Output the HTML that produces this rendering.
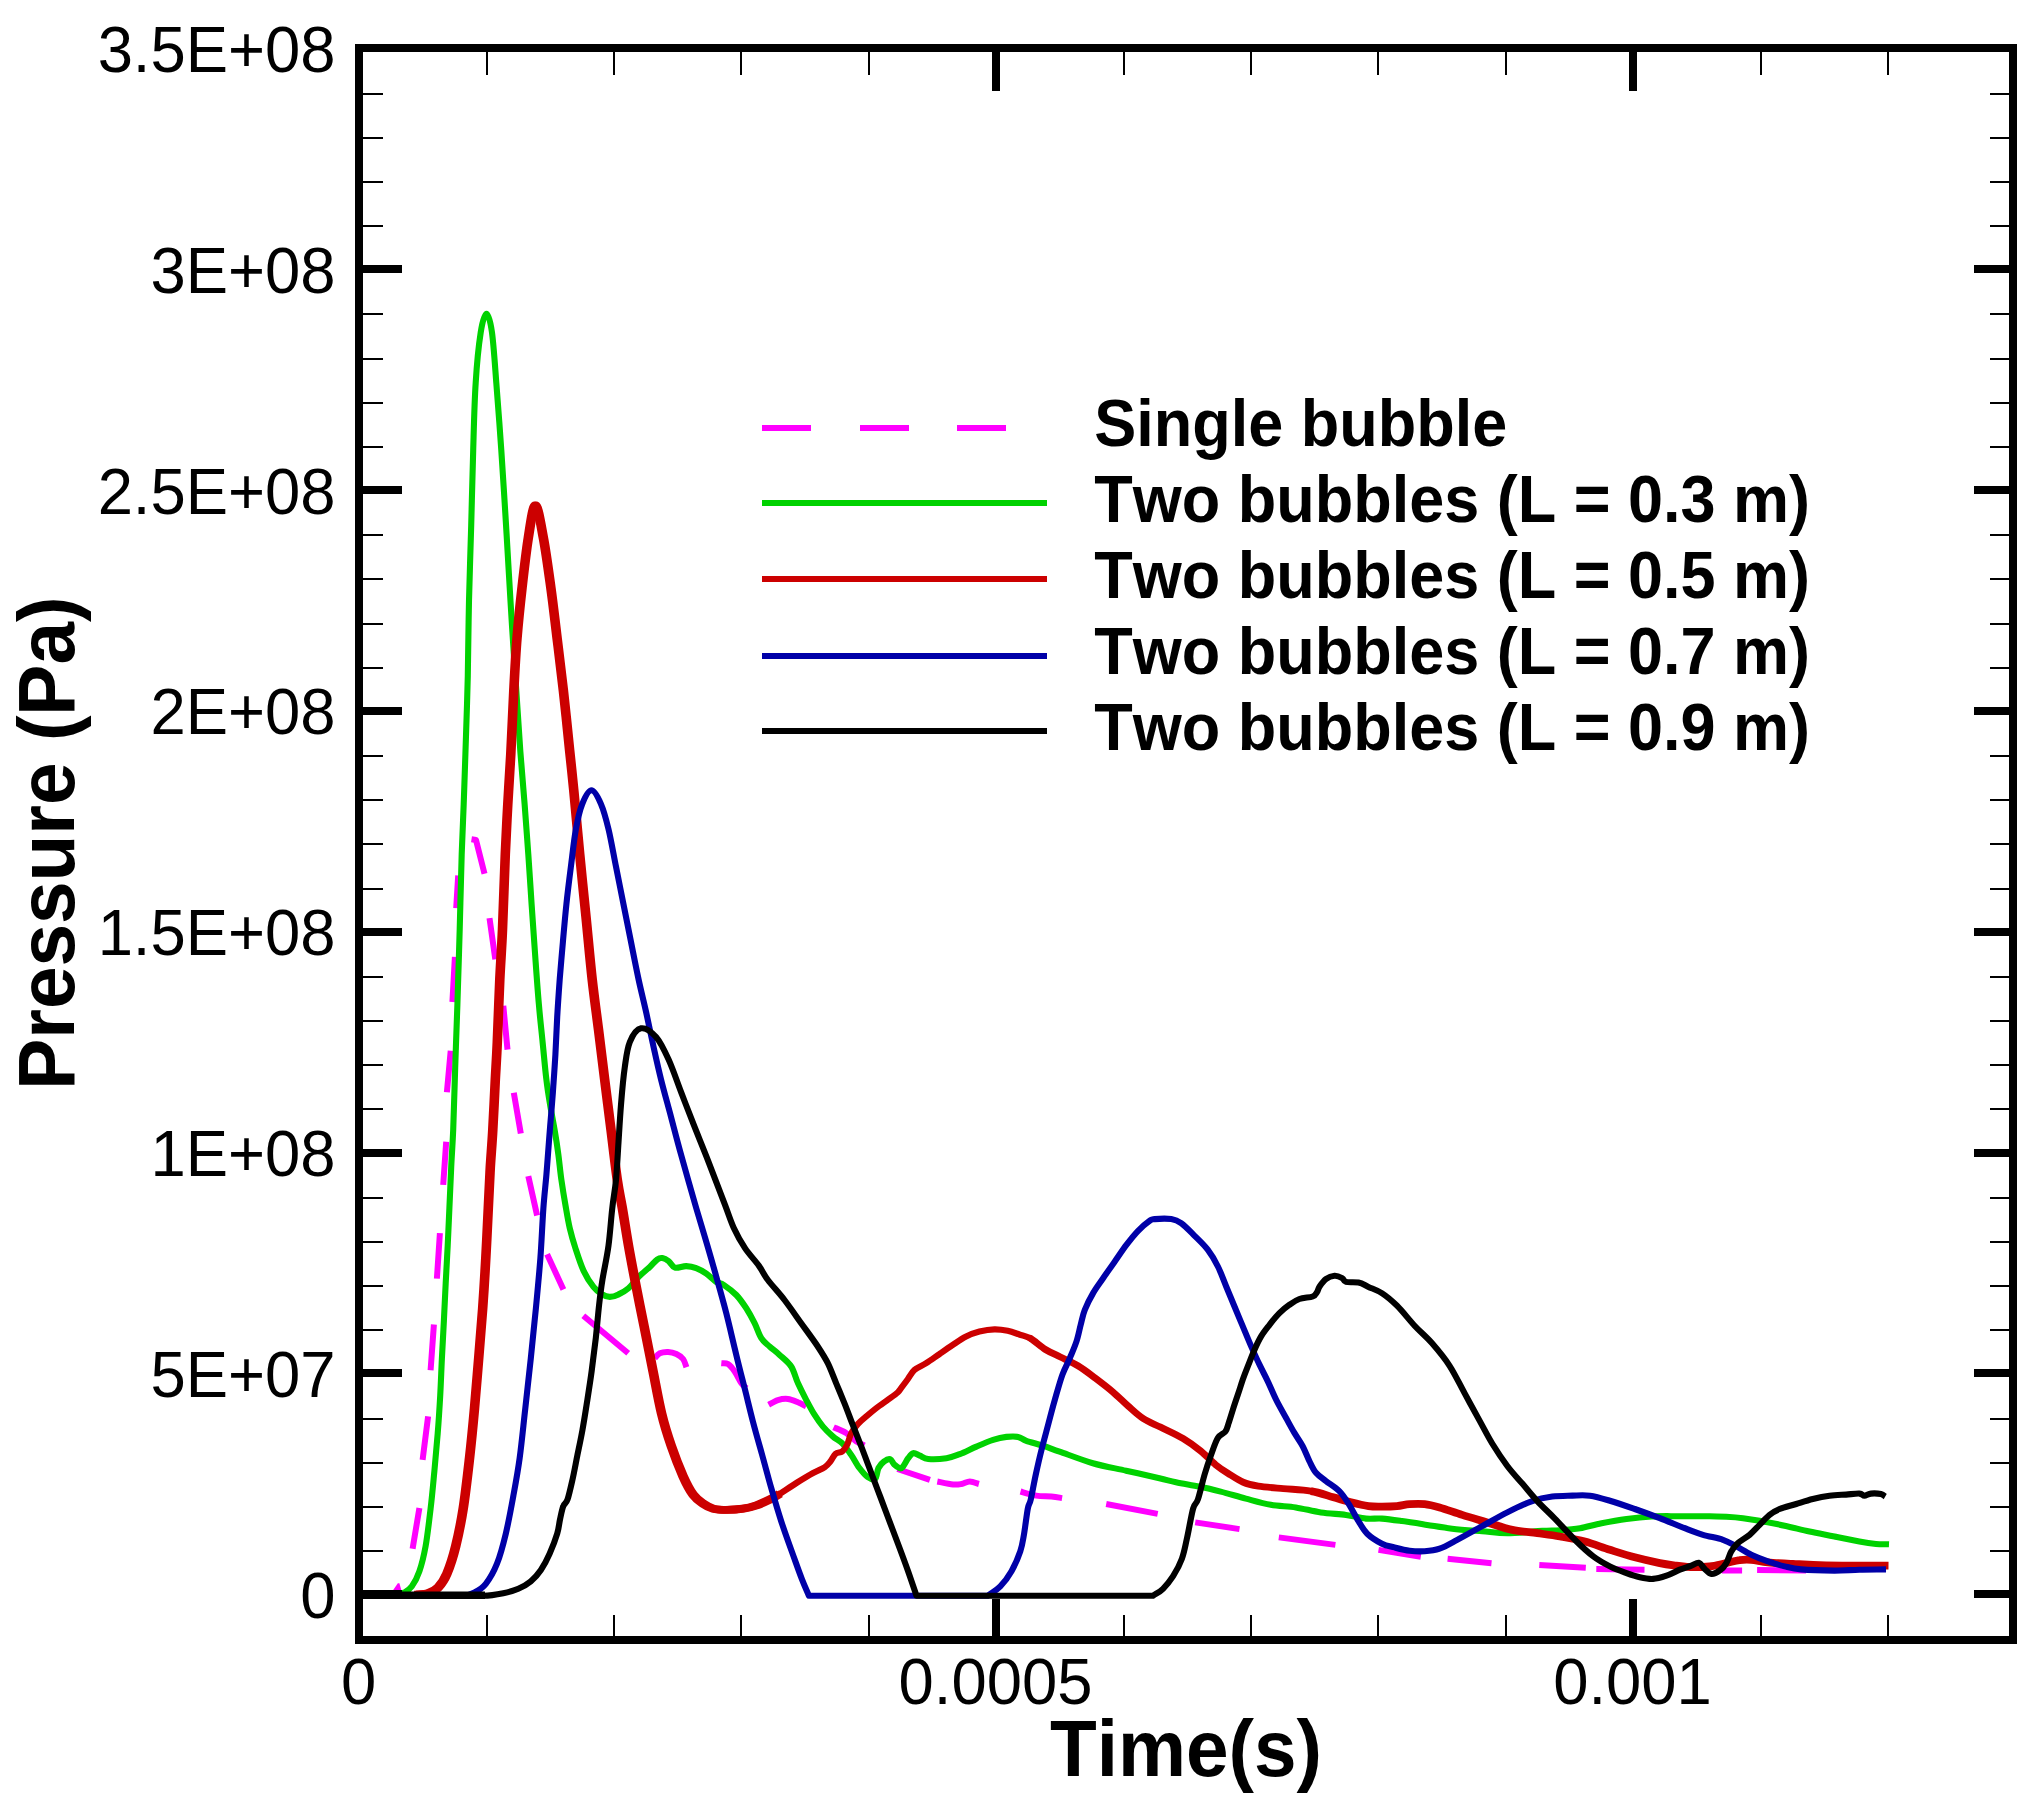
<!DOCTYPE html>
<html lang="en"><head><meta charset="utf-8"><title>Pressure vs Time</title>
<style>
html,body{margin:0;padding:0;background:#fff;}
body{width:2044px;height:1815px;overflow:hidden;}
svg{display:block;}
text{font-family:"Liberation Sans",Arial,Helvetica,sans-serif;fill:#000;font-kerning:none;}
.tl{font-size:65px;}
.ti{font-size:76.5px;font-weight:bold;}
.lg{font-size:63px;font-weight:bold;}
.cv{fill:none;stroke-linejoin:round;stroke-linecap:butt;}
</style></head><body>
<svg width="2044" height="1815" viewBox="0 0 2044 1815">
<rect x="0" y="0" width="2044" height="1815" fill="#fff"/>
<g class="cv">
<path d="M391.5 1592.5L397.8 1583.2H399.4L402 1592.5Z" fill="#ff00ff" stroke="none"/>
<path d="M412.6 1548.7L419.4 1508.1M422.6 1459.8L428.1 1416.4M430.6 1370.3L433.9 1324.5M436.9 1278.6L439.9 1233.1M443.2 1184.9L446.2 1141.8M446.9 1092.2L450.7 1050.8M452.4 1002L454.9 956.9M456.2 908.1L458.2 875.5M471.5 839.3L476 840L484.5 873.7M489.5 918.1L495.3 959.4M503.3 1005.8L507.5 1049.6M513.8 1092.7L520.8 1133.5M528.3 1176.1L537.1 1215.5M547.1 1254.3L563.4 1289.4M583.3 1315.8L628.2 1353.2M654.8 1358.2C655.6 1357.4 657.6 1354.2 659.8 1353.2C662 1352.2 665.3 1351.8 668.1 1351.9C670.9 1352 673.9 1352.8 676.4 1354C678.9 1355.2 681.4 1356.8 683.1 1359C684.8 1361.2 685.9 1365.9 686.4 1367.3M721.3 1363.2C722.4 1363.3 725.8 1362.6 728 1364C730.2 1365.4 732.5 1368.3 734.7 1371.5C736.9 1374.7 739.4 1380.3 741.3 1383.1C743.2 1385.9 745.5 1387.3 746.3 1388.1M768.7 1404.8C770.2 1404 774.7 1401.1 777.9 1400.1C781.1 1399.1 784.6 1398.5 787.9 1398.9C791.2 1399.3 794.8 1401 797.9 1402.3C801 1403.5 804.8 1405.7 806.2 1406.4M833.6 1427.2C835.7 1428.2 842.4 1430.7 846.1 1433C849.9 1435.3 853.1 1439.2 856.1 1441.3C859.1 1443.4 863 1444.8 864.4 1445.5M897.4 1469L929.9 1479.8M937.3 1481.5C939.9 1482 949.1 1484.1 953.1 1484.5C957.1 1484.9 958.7 1484.5 961.5 1484C964.3 1483.5 966.9 1481.5 969.8 1481.5C972.7 1481.5 977.4 1483.6 978.9 1484M1020.5 1491.5C1023.1 1492.2 1031.2 1494.8 1036.3 1495.6C1041.4 1496.4 1047 1496.1 1051.3 1496.5C1055.6 1496.9 1060.3 1497.8 1062.1 1498.1M1106.2 1504L1157.7 1513.9M1195.2 1522.4L1239.5 1529.1M1278.8 1537.4L1335.4 1544.9M1378.5 1549.9L1420.8 1556.7M1447.6 1558.7L1491.5 1563.2M1539.3 1565L1585.8 1567.7M1596.3 1568.9L1644.5 1569.7M1722 1570.5L1742.1 1570.6M1757.1 1570.1L1806 1570.6" stroke="#ff00ff" stroke-width="6"/>
<path d="M358 1595.8L395 1595.8C398.1 1595.8 401.5 1594.1 404.3 1592.5C407.1 1590.9 409.4 1589.8 411.9 1586.3C414.4 1582.8 417.1 1577.9 419.4 1571.2C421.7 1564.5 423.7 1556.6 425.6 1546.2C427.5 1535.8 429.1 1521.1 430.6 1508.6C432.1 1496.1 433.2 1483.5 434.4 1471C435.6 1458.5 436.7 1446 437.7 1433.5C438.7 1421 439.5 1408.4 440.2 1395.9C440.9 1383.4 441.3 1370.8 441.9 1358.3C442.5 1345.8 443.3 1333.2 443.9 1320.7C444.5 1308.2 445.1 1295.7 445.7 1283.2C446.3 1270.7 447.1 1258.1 447.7 1245.6C448.3 1233.1 448.8 1221 449.4 1208C450 1195 450.6 1180.3 451.2 1167.3C451.8 1154.3 452.5 1146.5 453.2 1129.8C453.9 1113.1 454.5 1088 455.2 1067.1C455.9 1046.2 456.6 1027.5 457.4 1004.5C458.1 981.5 459 954.4 459.7 929.4C460.4 904.4 461 875.1 461.7 854.2C462.4 833.3 463.1 820.8 463.7 804.1C464.3 787.4 464.7 775.4 465.4 754C466.1 732.6 467.2 701.4 467.8 675.8C468.4 650.2 468.4 625.6 469 600.6C469.6 575.6 470.5 550.5 471.2 525.5C471.9 500.4 472.4 474.1 473.2 450.3C473.9 426.5 474.4 402.3 475.7 382.7C476.9 363.1 478.9 344 480.7 332.5C482.5 321 484.6 313.8 486.5 313.8C488.4 313.8 490.4 321.1 492 332.6C493.6 344.1 494.8 363.1 496.3 382.7C497.9 402.3 499.8 428.6 501.3 450.3C502.8 472 504 492.1 505.3 513C506.6 533.9 507.9 556.8 509 575.6C510.1 594.4 510.8 606.5 512 625.7C513.2 644.9 514.9 669.9 516.3 690.8C517.7 711.7 518.9 732.1 520.3 751C521.7 769.9 523.3 786.9 524.6 804.1C525.9 821.3 527.1 837.5 528.3 854.2C529.5 870.9 530.5 887.6 531.6 904.3C532.7 921 533.9 937.7 535.1 954.4C536.3 971.1 537.6 989.9 538.9 1004.5C540.1 1019.1 541.4 1029.6 542.6 1042.1C543.9 1054.6 545.1 1069.3 546.4 1079.7C547.6 1090.1 548.7 1096.4 550.1 1104.7C551.5 1113 553.2 1121.5 554.6 1129.8C556 1138.1 557.3 1146.4 558.4 1154.8C559.5 1163.2 560.2 1171.6 561.4 1179.9C562.6 1188.2 564 1196.9 565.4 1204.9C566.8 1212.9 568 1220.8 569.7 1228C571.4 1235.2 573.1 1241 575.4 1248.1C577.7 1255.2 580.5 1264.1 583.5 1270.6C586.5 1277.1 590.4 1282.9 593.5 1286.9C596.6 1290.9 599.5 1292.7 602.2 1294.4C604.9 1296.1 607.1 1296.9 609.8 1296.9C612.5 1296.9 615.4 1295.9 618.5 1294.4C621.6 1293 625.1 1291.1 628.5 1288.2C631.9 1285.3 635.1 1280.5 638.6 1276.9C642.1 1273.4 646.7 1269.8 649.8 1266.9C652.9 1264 655.2 1260.9 657.3 1259.4C659.4 1257.9 660.5 1257.8 662.4 1258.1C664.3 1258.4 666.5 1259.5 668.6 1261.1C670.7 1262.7 672 1266.8 674.9 1267.6C677.8 1268.4 682.7 1266 686.2 1266.1C689.8 1266.2 692.9 1266.8 696.2 1268.1C699.5 1269.3 702.9 1271.3 706.2 1273.6C709.5 1275.9 713.3 1280 716.2 1281.9C719.1 1283.8 720.4 1282.8 723.8 1285C727.1 1287.2 732.5 1291.1 736.3 1295C740 1298.9 743.2 1303.6 746.3 1308.3C749.3 1313 752.1 1318.2 754.6 1323.2C757.1 1328.2 758.8 1334.3 761.3 1338.2C763.8 1342.1 766.5 1343.7 769.6 1346.5C772.7 1349.3 776 1351.6 779.6 1354.9C783.2 1358.2 788.2 1361.8 791.2 1366.5C794.2 1371.2 795.4 1377.5 797.9 1383.1C800.4 1388.6 803.4 1394.5 806.2 1399.8C809 1405.1 811.7 1410.3 814.5 1414.7C817.3 1419.1 819.8 1422.8 822.8 1426.4C825.8 1430 829.5 1433.5 832.8 1436.4C836.1 1439.3 839.8 1440.8 842.8 1443.8C845.8 1446.8 848.3 1450.7 851.1 1454.7C853.9 1458.7 856.6 1464.3 859.4 1468C862.2 1471.7 865.1 1475.3 867.7 1477.1C870.3 1478.9 873.4 1480.3 875.2 1478.8C877 1477.3 877 1470.9 878.5 1468C880 1465.1 882.3 1462.8 884.3 1461.3C886.2 1459.8 888.5 1458.8 890.2 1459.3C891.9 1459.8 892.8 1463.1 894.3 1464.6C895.8 1466 897.9 1467.5 899.3 1468C900.6 1468.5 900.9 1469 902.4 1467.4C903.9 1465.8 906.4 1460.6 908.2 1458.2C910 1455.8 911.2 1453.6 913.2 1453.2C915.2 1452.8 917.4 1454.7 919.9 1455.7C922.4 1456.7 923.8 1458.6 928.2 1459C932.6 1459.4 941.2 1459 946.5 1458.2C951.8 1457.4 954.8 1456 959.8 1454.1C964.8 1452.2 970.8 1449 976.4 1446.6C982 1444.2 988.1 1441.5 993.1 1439.9C998.1 1438.3 1002.2 1437.4 1006.4 1436.9C1010.5 1436.4 1014.7 1436.2 1018 1436.9C1021.3 1437.6 1022.1 1439.3 1026.3 1440.8C1030.5 1442.3 1037.5 1443.9 1043 1445.7C1048.5 1447.5 1051.3 1448.7 1059.6 1451.6C1067.9 1454.5 1081.8 1460 1092.9 1463.2C1104 1466.4 1115 1468.2 1126.1 1470.7C1137.2 1473.2 1151.1 1476.3 1159.4 1478.2C1167.7 1480.1 1169.3 1480.9 1176 1482.3C1182.7 1483.7 1191.8 1485 1199.3 1486.5C1206.8 1488 1213 1489.6 1220.7 1491.6C1228.5 1493.6 1237.5 1496.4 1245.8 1498.6C1254.1 1500.8 1262.5 1503.3 1270.8 1504.8C1279.1 1506.3 1287.4 1506.1 1295.8 1507.4C1304.2 1508.7 1312.5 1511.2 1320.9 1512.4C1329.3 1513.7 1338.5 1513.9 1346 1514.9C1353.5 1515.9 1360 1518 1366 1518.6C1372 1519.2 1376 1518.2 1382 1518.6C1388 1519 1394.5 1520 1402 1521.1C1409.5 1522.1 1418.8 1523.6 1427.1 1524.9C1435.4 1526.2 1442.9 1527.7 1452.1 1528.7C1461.3 1529.8 1473 1530.5 1482.2 1531.2C1491.4 1532 1497.3 1533.2 1507.3 1533.2C1517.3 1533.2 1533.5 1531.4 1542.3 1530.9C1551.1 1530.4 1553.7 1530.7 1560 1530.2C1566.3 1529.8 1573.1 1529.4 1580 1528.2C1586.9 1527 1593.8 1524.7 1601.6 1523.2C1609.3 1521.7 1618.2 1520.1 1626.5 1519C1634.8 1517.9 1643.2 1517 1651.5 1516.5C1659.8 1516 1668.1 1516.2 1676.4 1516.2L1709.7 1516.2C1715.2 1516.2 1720.8 1516.5 1726.3 1516.8C1731.8 1517.1 1737.5 1517.5 1743 1518.2C1748.5 1518.9 1752.7 1519.5 1759.6 1520.7C1766.5 1522 1776.3 1523.9 1784.6 1525.7C1792.9 1527.5 1801.2 1529.7 1809.5 1531.5C1817.8 1533.3 1826.2 1534.8 1834.5 1536.5C1842.8 1538.2 1852.5 1540.2 1859.4 1541.5C1866.3 1542.8 1871.1 1543.5 1876 1544C1880.9 1544.5 1886.8 1544.2 1889 1544.3" stroke="#00d200" stroke-width="6.1"/>
<g stroke="#cc0000" stroke-linecap="round">
<path d="M358 1594.6L415 1594.6" stroke-width="5"/>
<path d="M779.8 1493.8C784.2 1491 790.8 1486.5 796.4 1483C802 1479.5 808.4 1475.6 813.1 1473C817.8 1470.4 821.8 1469.2 824.7 1467.2C827.6 1465.2 828.7 1463.5 830.5 1461.3C832.3 1459.1 833.5 1455.6 835.5 1453.9C837.5 1452.2 840.2 1452.9 842.2 1451.4C844.2 1449.9 845.7 1447.8 847.2 1444.7C848.7 1441.7 849.5 1436.6 851.3 1433.1C853.1 1429.6 855.5 1426.7 858 1423.9C860.5 1421.1 863.2 1419 866.3 1416.4C869.3 1413.8 872.7 1410.9 876.3 1408.1C879.9 1405.3 884.3 1402.4 887.9 1399.8C891.5 1397.2 895.5 1394.5 897.9 1392.3C900.3 1390.1 900.5 1388.8 902.2 1386.6C903.9 1384.4 905.9 1381.8 907.9 1379C909.9 1376.2 911.5 1372.5 914.5 1369.9C917.5 1367.3 922 1365.8 926.2 1363.2C930.4 1360.6 935.1 1357.1 939.5 1354.1C943.9 1351 948.4 1347.8 952.8 1344.9C957.2 1342 961.7 1338.8 966.1 1336.6C970.5 1334.4 974.7 1332.8 979.4 1331.6C984.1 1330.4 989.7 1329.4 994.4 1329.3C999.1 1329.2 1003.6 1329.9 1007.7 1330.8C1011.9 1331.7 1015.5 1333.2 1019.3 1334.5C1023.1 1335.8 1025.9 1335.8 1030.3 1338.3" stroke-width="6.2"/>
<path d="M1030.3 1338.3C1034.7 1340.8 1040.4 1346.4 1045.4 1349.5C1050.4 1352.6 1055 1354.3 1060.4 1357C1065.8 1359.7 1072.1 1362.2 1077.9 1365.8C1083.8 1369.3 1089.7 1373.9 1095.5 1378.3C1101.3 1382.7 1107.6 1387.5 1113 1392.1C1118.4 1396.7 1123 1401.5 1128 1405.9C1133 1410.3 1137.6 1414.9 1143 1418.4C1148.4 1422 1153.9 1423.9 1160.6 1427.2C1167.3 1430.5 1176.4 1434.5 1183.1 1438.5C1189.8 1442.5 1195.3 1446.6 1200.7 1451C1206.1 1455.4 1211.1 1461 1215.7 1464.8C1220.3 1468.5 1223.6 1470.6 1228.2 1473.5C1232.8 1476.4 1238.3 1480.2 1243.3 1482.3C1248.3 1484.4 1251.6 1485 1258.3 1486.1C1265 1487.1 1274.5 1487.8 1283.3 1488.6C1292.1 1489.4 1302.6 1489.6 1310.9 1491.1" stroke-width="6.9"/>
<path d="M1310.9 1491.1C1319.2 1492.5 1326.7 1495.4 1333.4 1497.3C1340.1 1499.2 1345.2 1500.8 1351 1502.3C1356.8 1503.8 1363.3 1505.4 1368.5 1506.1C1373.7 1506.8 1377.2 1506.6 1382 1506.6C1386.8 1506.6 1392.4 1506.5 1397 1506.1C1401.6 1505.7 1405 1504.4 1409.6 1504.1C1414.2 1503.8 1419.6 1503.5 1424.6 1504.1C1429.6 1504.6 1433.3 1505.6 1439.6 1507.4C1445.9 1509.2 1454.3 1512.4 1462.2 1514.9C1470.1 1517.4 1478.9 1519.9 1487.2 1522.4C1495.5 1524.9 1504 1528.1 1512.3 1529.9C1520.6 1531.7 1529.3 1532.1 1537.3 1533.2C1545.2 1534.3 1552 1535.1 1560 1536.5C1568 1537.9 1576.7 1539.3 1585 1541.5C1593.3 1543.7 1601.6 1547.2 1609.9 1549.8C1618.2 1552.4 1626.5 1555.1 1634.8 1557.3C1643.1 1559.5 1652.9 1561.7 1659.8 1563.1C1666.7 1564.5 1670.9 1564.9 1676.4 1565.6C1682 1566.3 1687.5 1567.1 1693.1 1567.2C1698.6 1567.3 1704.2 1567.1 1709.7 1566.4C1715.2 1565.7 1721.3 1564.1 1726.3 1563.1C1731.3 1562 1735.4 1560.6 1739.6 1560.1C1743.8 1559.5 1746.6 1559.4 1751.3 1559.8C1756 1560.2 1761 1561.6 1767.9 1562.3C1774.8 1563 1783.2 1563.4 1792.9 1563.9C1802.6 1564.4 1810.2 1565 1826.1 1565.3C1842 1565.6 1878.1 1565.5 1888.5 1565.6" stroke-width="7.8" stroke-linecap="butt"/>
<path d="M415 1594.6C419.4 1594.6 424.2 1594.5 428.1 1593.3C432 1592.1 435.1 1590.8 438.2 1587.5C441.3 1584.2 444 1580.6 446.9 1573.7C449.8 1566.8 453 1557.1 455.7 1546.2C458.4 1535.3 460.9 1523.2 463.2 1508.6C465.5 1494 467.6 1475.2 469.5 1458.5C471.4 1441.8 473 1425.1 474.5 1408.4C476 1391.7 477.3 1375 478.7 1358.3C480.1 1341.6 481.5 1324.9 482.7 1308.2C483.9 1291.5 484.9 1274.8 485.8 1258.1C486.7 1241.4 487.6 1223.1 488.3 1208C489.1 1192.9 489.6 1180.3 490.3 1167.3C491.1 1154.3 492 1144.4 492.8 1129.8C493.6 1115.2 494.6 1094.3 495.3 1079.7C496.1 1065.1 496.6 1058.8 497.3 1042.1C498.1 1025.4 498.9 998.3 499.8 979.5C500.7 960.7 501.6 950.3 502.5 929.4C503.4 908.5 504.4 875.1 505.3 854.2C506.2 833.3 506.9 820.8 507.8 804.1C508.7 787.4 509.8 772.9 510.8 754C511.8 735.1 512.8 710.1 513.8 690.8C514.8 671.5 515.6 655.3 517 638.2C518.4 621.1 520.1 604.7 522 588C523.9 571.3 526.1 551.8 528.3 538C530.5 524.2 532.9 505.4 535.4 505.4C537.9 505.4 540.8 524.2 543.4 538C546 551.8 548.6 571.3 550.9 588C553.2 604.7 555 621.1 557.1 638.2C559.2 655.3 561.3 672 563.4 690.8C565.5 709.6 568 734.2 569.7 751C571.5 767.8 572.2 774.4 573.9 791.6C575.6 808.8 577.7 833.3 579.7 854.2C581.7 875.1 583.9 895.9 586 916.8C588.1 937.7 590.1 960.7 592.2 979.5C594.3 998.3 596.4 1012.9 598.5 1029.6C600.6 1046.3 602.6 1063 604.7 1079.7C606.8 1096.4 608.9 1113.1 611 1129.8C613.1 1146.5 615.4 1166.9 617.3 1179.9C619.2 1192.9 620.4 1197 622.3 1208C624.2 1219 626.4 1233.6 628.5 1245.6C630.6 1257.6 633 1270.1 634.9 1280C636.8 1289.9 637.9 1295.3 639.8 1305C641.7 1314.7 644.3 1327.1 646.5 1338.2C648.7 1349.3 650.6 1359 653.1 1371.5C655.6 1384 658.5 1400.6 661.5 1413.1C664.5 1425.6 667.8 1435.8 671.4 1446.3C675 1456.8 679.5 1468.2 683.1 1476.3C686.7 1484.3 689.7 1490 693.1 1494.6C696.5 1499.2 699.9 1501.4 703.3 1503.8C706.7 1506.2 709.4 1507.7 713.3 1508.7C717.2 1509.7 721.6 1509.9 726.6 1509.9C731.6 1509.9 738.2 1509.5 743.2 1508.7C748.2 1508 752.1 1506.9 756.5 1505.4C760.9 1503.9 765.9 1501.5 769.8 1499.6C773.7 1497.7 775.4 1496.6 779.8 1493.8" stroke-width="7.8" stroke-linecap="butt" transform="translate(-0.9 0)"/>
<path d="M415 1594.6C419.4 1594.6 424.2 1594.5 428.1 1593.3C432 1592.1 435.1 1590.8 438.2 1587.5C441.3 1584.2 444 1580.6 446.9 1573.7C449.8 1566.8 453 1557.1 455.7 1546.2C458.4 1535.3 460.9 1523.2 463.2 1508.6C465.5 1494 467.6 1475.2 469.5 1458.5C471.4 1441.8 473 1425.1 474.5 1408.4C476 1391.7 477.3 1375 478.7 1358.3C480.1 1341.6 481.5 1324.9 482.7 1308.2C483.9 1291.5 484.9 1274.8 485.8 1258.1C486.7 1241.4 487.6 1223.1 488.3 1208C489.1 1192.9 489.6 1180.3 490.3 1167.3C491.1 1154.3 492 1144.4 492.8 1129.8C493.6 1115.2 494.6 1094.3 495.3 1079.7C496.1 1065.1 496.6 1058.8 497.3 1042.1C498.1 1025.4 498.9 998.3 499.8 979.5C500.7 960.7 501.6 950.3 502.5 929.4C503.4 908.5 504.4 875.1 505.3 854.2C506.2 833.3 506.9 820.8 507.8 804.1C508.7 787.4 509.8 772.9 510.8 754C511.8 735.1 512.8 710.1 513.8 690.8C514.8 671.5 515.6 655.3 517 638.2C518.4 621.1 520.1 604.7 522 588C523.9 571.3 526.1 551.8 528.3 538C530.5 524.2 532.9 505.4 535.4 505.4C537.9 505.4 540.8 524.2 543.4 538C546 551.8 548.6 571.3 550.9 588C553.2 604.7 555 621.1 557.1 638.2C559.2 655.3 561.3 672 563.4 690.8C565.5 709.6 568 734.2 569.7 751C571.5 767.8 572.2 774.4 573.9 791.6C575.6 808.8 577.7 833.3 579.7 854.2C581.7 875.1 583.9 895.9 586 916.8C588.1 937.7 590.1 960.7 592.2 979.5C594.3 998.3 596.4 1012.9 598.5 1029.6C600.6 1046.3 602.6 1063 604.7 1079.7C606.8 1096.4 608.9 1113.1 611 1129.8C613.1 1146.5 615.4 1166.9 617.3 1179.9C619.2 1192.9 620.4 1197 622.3 1208C624.2 1219 626.4 1233.6 628.5 1245.6C630.6 1257.6 633 1270.1 634.9 1280C636.8 1289.9 637.9 1295.3 639.8 1305C641.7 1314.7 644.3 1327.1 646.5 1338.2C648.7 1349.3 650.6 1359 653.1 1371.5C655.6 1384 658.5 1400.6 661.5 1413.1C664.5 1425.6 667.8 1435.8 671.4 1446.3C675 1456.8 679.5 1468.2 683.1 1476.3C686.7 1484.3 689.7 1490 693.1 1494.6C696.5 1499.2 699.9 1501.4 703.3 1503.8C706.7 1506.2 709.4 1507.7 713.3 1508.7C717.2 1509.7 721.6 1509.9 726.6 1509.9C731.6 1509.9 738.2 1509.5 743.2 1508.7C748.2 1508 752.1 1506.9 756.5 1505.4C760.9 1503.9 765.9 1501.5 769.8 1499.6C773.7 1497.7 775.4 1496.6 779.8 1493.8" stroke-width="7.8" stroke-linecap="butt" transform="translate(0.9 0)"/>
</g>
<path d="M358 1595.8L463.2 1595.8C467 1595.8 470.7 1594.5 474.5 1592.5C478.3 1590.5 482.1 1588.6 485.8 1583.8C489.6 1579 493.7 1572 497 1563.7C500.3 1555.4 503.1 1545 505.8 1533.7C508.5 1522.4 511 1508.6 513.3 1496.1C515.6 1483.6 517.6 1473.1 519.6 1458.5C521.6 1443.9 523.4 1425.1 525.3 1408.4C527.2 1391.7 529 1375 530.8 1358.3C532.6 1341.6 534.3 1324.9 535.9 1308.2C537.5 1291.5 539.1 1274.8 540.4 1258.1C541.6 1241.4 542.4 1221.9 543.4 1208C544.4 1194.1 545.5 1185.8 546.4 1174.8C547.3 1163.8 548.1 1151.9 548.9 1142.3C549.6 1132.7 550.2 1125.5 550.9 1117.2C551.6 1108.9 552.1 1102.6 552.9 1092.2C553.6 1081.8 554.7 1067.1 555.4 1054.6C556.1 1042.1 556.5 1029.5 557.2 1017C557.9 1004.5 558.8 992 559.7 979.5C560.7 967 561.8 954.4 562.9 941.9C564 929.4 565.1 916.8 566.4 904.3C567.7 891.8 569.3 879.2 570.9 866.7C572.5 854.2 574 839.5 575.9 829.1C577.8 818.7 579.6 810.6 582.2 804.1C584.8 797.6 588.4 790.3 591.5 790.3C594.6 790.3 598.2 797.6 601 804.1C603.8 810.6 606 818.7 608.5 829.1C611 839.5 613.5 854.2 616 866.7C618.5 879.2 621 891.8 623.5 904.3C626 916.8 628.5 929.4 631 941.9C633.5 954.4 636.1 967.8 638.6 979.5C641.1 991.2 643.6 1000.7 646.1 1012C648.6 1023.3 651.1 1035.8 653.6 1047.1C656.1 1058.4 658.2 1068 661.1 1079.7C664 1091.4 667.8 1104.7 671.1 1117.2C674.4 1129.7 676.9 1139.7 681.1 1154.8C685.3 1169.9 691.8 1192.9 696.2 1208C700.6 1223.1 703.9 1233.6 707.4 1245.6C710.9 1257.6 714.1 1268.7 717.2 1280C720.4 1291.3 723.1 1300.8 726.3 1313.3C729.5 1325.8 733.2 1342.4 736.3 1354.9C739.3 1367.4 741.8 1377 744.6 1388.1C747.4 1399.2 750 1410.3 752.9 1421.4C755.8 1432.5 759 1443.6 762.1 1454.7C765.2 1465.8 768 1476.8 771.2 1487.9C774.4 1499 777.6 1510.1 781.2 1521.2C784.8 1532.3 789.4 1544.8 792.9 1554.5C796.4 1564.2 799.3 1572.5 802 1579.4C804.7 1586.3 806.6 1590.3 808.9 1595.8L987.7 1595.8C991.9 1592.6 996.3 1590.4 1000.3 1586.3C1004.3 1582.2 1008.2 1577 1011.5 1571.2C1014.8 1565.4 1018.2 1557.5 1020.3 1551.2C1022.4 1545 1022.8 1540.8 1024.1 1533.7C1025.3 1526.6 1026.7 1514.3 1027.8 1508.6C1028.9 1502.9 1029.5 1505.1 1030.8 1499.4C1032.1 1493.7 1034 1482.8 1035.8 1474.5C1037.6 1466.2 1039.5 1457.8 1041.6 1449.5C1043.7 1441.2 1046 1432.8 1048.2 1424.5C1050.4 1416.2 1052.5 1407.9 1054.9 1399.6C1057.3 1391.3 1059.9 1381.6 1062.4 1374.7C1064.9 1367.8 1067.6 1363.5 1069.9 1358C1072.2 1352.5 1074.7 1346.9 1076.5 1341.4C1078.3 1335.9 1079.3 1330.1 1080.7 1324.8C1082.1 1319.5 1082.7 1315.1 1084.8 1309.8C1086.9 1304.5 1090 1298.4 1093.1 1293.1C1096.1 1287.8 1099.5 1283.5 1103.1 1278.2C1106.7 1272.9 1110.9 1267 1114.8 1261.5C1118.7 1256 1122.5 1250 1126.4 1244.9C1130.3 1239.8 1134.2 1234.8 1138.1 1230.8C1142 1226.8 1146.9 1222.8 1149.7 1220.8C1152.5 1218.8 1151.1 1219.4 1154.7 1219.1C1158.3 1218.8 1166.9 1218.4 1171.3 1219.1C1175.7 1219.8 1177.4 1220.5 1181.3 1223.3C1185.2 1226.1 1190.2 1231.4 1194.6 1235.8C1199 1240.2 1204 1244.8 1207.9 1249.9C1211.8 1255 1214.9 1260.4 1217.9 1266.5C1221 1272.6 1223.4 1279.8 1226.2 1286.5C1229 1293.2 1231.7 1299.8 1234.5 1306.5C1237.3 1313.2 1240 1319.8 1242.8 1326.4C1245.6 1333.1 1248.4 1340 1251.2 1346.4C1254 1352.8 1256.7 1358.9 1259.5 1364.7C1262.3 1370.5 1265 1375.5 1267.8 1381.3C1270.6 1387.1 1273 1393.5 1276.1 1399.6C1279.1 1405.7 1283 1412.4 1286.1 1417.9C1289.1 1423.5 1291.6 1428.2 1294.4 1432.9C1297.2 1437.6 1300.2 1441.5 1302.7 1446.2C1305.2 1450.9 1307.2 1456.7 1309.4 1461.1C1311.6 1465.5 1313.2 1469.5 1316 1472.8C1318.8 1476.1 1322.1 1478 1326 1481.1C1329.9 1484.1 1335.5 1487.3 1339.3 1491.1C1343 1494.8 1345.3 1498.6 1348.5 1503.6C1351.7 1508.6 1355.4 1516.1 1358.5 1521.1C1361.6 1526.1 1363.3 1529.9 1367.2 1533.7C1371.1 1537.5 1377.5 1541.4 1382 1543.7C1386.5 1546 1389.9 1546.2 1394.5 1547.4C1399.1 1548.6 1404.6 1550.1 1409.6 1550.7C1414.6 1551.3 1419.6 1551.5 1424.6 1551.2C1429.6 1550.9 1434.2 1550.6 1439.6 1548.7C1445 1546.8 1450.1 1543.7 1457.2 1539.9C1464.3 1536.1 1473.9 1530.7 1482.2 1526.1C1490.5 1521.5 1499 1516.6 1507.3 1512.4C1515.6 1508.2 1524.8 1503.7 1532.3 1501.1C1539.8 1498.5 1545.6 1497.5 1552.3 1496.6C1559 1495.7 1566.1 1495.8 1572.4 1495.6C1578.7 1495.4 1583.8 1494.8 1590 1495.7C1596.2 1496.6 1602.4 1498.5 1609.9 1500.7C1617.4 1502.9 1626.5 1506.1 1634.8 1509C1643.1 1511.9 1651.5 1515 1659.8 1518.2C1668.1 1521.4 1677.6 1525.4 1684.8 1528.2C1692 1531 1696.6 1532.9 1703 1534.8C1709.4 1536.7 1717.5 1537.9 1723 1539.8C1728.5 1541.7 1731.6 1543.9 1736.3 1546.4C1741 1548.9 1746 1552.3 1751.3 1554.8C1756.6 1557.3 1762.4 1559.5 1767.9 1561.4C1773.5 1563.3 1779 1565.1 1784.6 1566.4C1790.1 1567.7 1792.9 1568.7 1801.2 1569.4C1809.5 1570.1 1824.8 1570.5 1834.5 1570.6C1844.2 1570.6 1850.8 1569.9 1859.4 1569.7C1868 1569.5 1881.6 1569.5 1886 1569.4" stroke="#0000a8" stroke-width="6.1"/>
<path d="M358 1595.8L483.3 1595.8C490 1595.8 497.5 1594.5 503.3 1593.3C509.1 1592.1 513.7 1590.8 518.3 1588.8C522.9 1586.8 527 1584.4 530.8 1581.3C534.6 1578.2 537.8 1574.6 540.9 1570C544 1565.4 546.9 1559.8 549.6 1553.7C552.3 1547.7 555.5 1539.4 557.2 1533.7C558.9 1528 559 1524.1 560 1519.5C561 1514.9 562 1509.5 563.3 1506.2C564.5 1502.9 566 1504 567.5 1499.6C569 1495.2 570.8 1487.1 572.5 1479.6C574.2 1472.1 575.8 1463 577.5 1454.7C579.2 1446.4 581 1438 582.5 1429.7C584 1421.4 585.1 1414.5 586.6 1404.8C588.1 1395.1 590.1 1382.6 591.6 1371.5C593.1 1360.4 594.5 1349.3 595.8 1338.2C597 1327.1 598 1314.7 599.1 1305C600.2 1295.3 600.8 1289.9 602.4 1280C604 1270.1 606.9 1257.6 608.5 1245.6C610.1 1233.6 611 1219 612.3 1208C613.5 1197 615 1190.9 616 1179.9C617 1169 617.7 1154.8 618.5 1142.3C619.3 1129.8 620 1117.2 621 1104.7C622 1092.2 623.3 1077.5 624.8 1067.1C626.3 1056.7 627.1 1048.6 629.8 1042.1C632.5 1035.6 636.6 1029.1 641 1028.3C645.4 1027.5 651.5 1031.9 656.1 1037.1C660.7 1042.3 664.4 1050.4 668.6 1059.6C672.8 1068.8 676.9 1081.3 681.1 1092.2C685.3 1103.1 689.1 1113 693.7 1124.7C698.3 1136.4 703.5 1148.9 708.7 1162.3C713.9 1175.7 720.8 1194 725 1204.9C729.2 1215.9 730.5 1220.8 733.8 1228C737.1 1235.2 740.8 1241.8 745 1248.1C749.2 1254.4 755 1260.3 758.8 1265.6C762.6 1270.9 763.6 1274.3 767.9 1280C772.2 1285.7 779 1292.8 784.5 1300C790 1307.2 795.7 1315.5 801.2 1323.2C806.8 1331 813.4 1339.8 817.8 1346.5C822.2 1353.2 824.8 1357.1 827.8 1363.2C830.8 1369.3 833.3 1376.4 836.1 1383.1C838.9 1389.8 841.6 1396.2 844.4 1403.1C847.2 1410 849.9 1417.5 852.7 1424.7C855.5 1431.9 858.3 1438.8 861.1 1446C863.9 1453.2 866.6 1460.7 869.4 1468C872.2 1475.3 874.9 1482.7 877.7 1490C880.5 1497.3 882.7 1503.2 886 1512C889.3 1520.8 894 1533.2 897.7 1543C901.4 1552.8 904.9 1562.2 908 1571C911.1 1579.8 913.7 1587.5 916.5 1595.8L1153 1595.8C1156.3 1593.5 1159.7 1592.1 1163 1588.8C1166.3 1585.5 1169.9 1581.2 1173.1 1576.2C1176.2 1571.2 1179.6 1565 1181.9 1558.7C1184.2 1552.5 1185 1547.1 1186.9 1538.7C1188.8 1530.3 1191.3 1515.1 1193.1 1508.6C1194.9 1502 1196 1505.1 1197.9 1499.4C1199.8 1493.7 1202.4 1482 1204.6 1474.5C1206.8 1467 1209 1460.6 1211.2 1454.5C1213.4 1448.4 1215.5 1441.7 1217.9 1437.9C1220.3 1434.1 1223.6 1434 1225.4 1431.5C1227.2 1429 1227.5 1426.6 1228.7 1422.9C1230 1419.2 1231.4 1414.3 1232.9 1409.6C1234.4 1404.9 1236.2 1399.6 1237.9 1394.6C1239.6 1389.6 1241.2 1384.3 1242.8 1379.6C1244.4 1374.9 1245.8 1371.3 1247.8 1366.3C1249.8 1361.3 1252.3 1354.7 1254.5 1349.7C1256.7 1344.7 1258.6 1340.6 1261.1 1336.4C1263.6 1332.2 1266.5 1328.7 1269.5 1324.8C1272.5 1320.9 1276.1 1316.4 1279.4 1313.1C1282.7 1309.8 1286.1 1307.1 1289.4 1304.8C1292.7 1302.5 1295.5 1300.4 1299.4 1299C1303.3 1297.6 1309.8 1297.6 1312.7 1296.5C1315.6 1295.4 1315.8 1294 1316.9 1292.3C1318.1 1290.6 1318.1 1288.7 1319.6 1286.5C1321.1 1284.3 1323.5 1280.8 1326 1279C1328.5 1277.2 1331.8 1276 1334.5 1275.8C1337.2 1275.6 1340.3 1277.1 1342.2 1278.1C1344.1 1279.1 1343.2 1281.2 1345.9 1281.9C1348.6 1282.7 1354.7 1281.8 1358.5 1282.6C1362.3 1283.4 1364.6 1285.1 1368.5 1286.9C1372.4 1288.7 1377.2 1290.1 1382 1293.2C1386.8 1296.3 1391.6 1300.3 1397 1305.7C1402.4 1311.1 1408.8 1319.4 1414.6 1325.7C1420.4 1332 1426.3 1336.6 1432.1 1343.3C1437.9 1350 1444.2 1357.4 1449.6 1365.8C1455 1374.2 1459.7 1384.2 1464.7 1393.4C1469.7 1402.6 1475.1 1412.6 1479.7 1420.9C1484.3 1429.2 1487.6 1436 1492.2 1443.5C1496.8 1451 1502.3 1459.3 1507.3 1466C1512.3 1472.7 1517.3 1477.8 1522.3 1483.6C1527.3 1489.4 1531.9 1495.3 1537.3 1501.1C1542.7 1506.9 1548.2 1511.9 1554.8 1518.6C1561.3 1525.3 1570.2 1535.2 1576.6 1541.5C1583 1547.8 1587.8 1552.2 1593.3 1556.4C1598.8 1560.6 1604.4 1563.6 1609.9 1566.4C1615.4 1569.2 1621.5 1571.3 1626.5 1573.1C1631.5 1574.9 1635.4 1576.2 1639.8 1577.2C1644.2 1578.2 1648.6 1579.2 1653.1 1578.9C1657.5 1578.6 1662 1577.1 1666.5 1575.6C1671 1574.1 1675.6 1571.4 1679.8 1569.7C1684 1568 1688.2 1566.8 1691.4 1565.6C1694.6 1564.4 1696.7 1562.2 1698.9 1562.8C1701.1 1563.3 1702.6 1567.1 1704.7 1568.9C1706.8 1570.8 1708.9 1573.6 1711.4 1573.9C1713.9 1574.2 1717.2 1572.4 1719.7 1570.6C1722.2 1568.8 1724.4 1566.3 1726.3 1563.1C1728.2 1559.9 1729.3 1554.7 1731.3 1551.4C1733.2 1548.1 1735 1545.9 1738 1543.1C1741 1540.3 1746 1537.8 1749.6 1534.8C1753.2 1531.8 1756.3 1528.1 1759.6 1524.8C1762.9 1521.5 1766.3 1517.4 1769.6 1514.8C1772.9 1512.2 1775.2 1510.8 1779.6 1509C1784 1507.2 1790.7 1505.7 1796.2 1504C1801.7 1502.3 1807.2 1500.4 1812.8 1499C1818.3 1497.6 1824 1496.4 1829.5 1495.7C1835 1495 1841.1 1494.9 1846.1 1494.6C1851.1 1494.2 1856.4 1493.4 1859.4 1493.6C1862.5 1493.8 1862.5 1495.7 1864.4 1495.7C1866.3 1495.7 1868.2 1493.9 1871 1493.6C1873.8 1493.3 1878.6 1493.6 1881 1494.1C1883.4 1494.6 1884.5 1496.2 1885.2 1496.6" stroke="#000" stroke-width="6.1"/>
<path d="M359 1595.3H485" stroke="#000" stroke-width="7.6"/>
</g>
<g stroke="#000" fill="none" shape-rendering="crispEdges">
<path d="M359 1551.1h24M2013 1551.1h-23M359 1507h24M2013 1507h-23M359 1462.8h24M2013 1462.8h-23M359 1418.6h24M2013 1418.6h-23M359 1330.3h24M2013 1330.3h-23M359 1286.1h24M2013 1286.1h-23M359 1241.9h24M2013 1241.9h-23M359 1197.8h24M2013 1197.8h-23M359 1109.4h24M2013 1109.4h-23M359 1065.3h24M2013 1065.3h-23M359 1021.1h24M2013 1021.1h-23M359 976.9h24M2013 976.9h-23M359 888.6h24M2013 888.6h-23M359 844.4h24M2013 844.4h-23M359 800.2h24M2013 800.2h-23M359 756.1h24M2013 756.1h-23M359 667.7h24M2013 667.7h-23M359 623.6h24M2013 623.6h-23M359 579.4h24M2013 579.4h-23M359 535.2h24M2013 535.2h-23M359 446.9h24M2013 446.9h-23M359 402.7h24M2013 402.7h-23M359 358.5h24M2013 358.5h-23M359 314.4h24M2013 314.4h-23M359 226h24M2013 226h-23M359 181.9h24M2013 181.9h-23M359 137.7h24M2013 137.7h-23M359 93.5h24M2013 93.5h-23M486.6 1639.8v-25M486.6 48.2v27M614 1639.8v-25M614 48.2v27M741.4 1639.8v-25M741.4 48.2v27M868.8 1639.8v-25M868.8 48.2v27M1123.6 1639.8v-25M1123.6 48.2v27M1251 1639.8v-25M1251 48.2v27M1378.4 1639.8v-25M1378.4 48.2v27M1505.8 1639.8v-25M1505.8 48.2v27M1760.6 1639.8v-25M1760.6 48.2v27M1888 1639.8v-25M1888 48.2v27" stroke-width="2"/>
<path d="M359 1594.3h43M2013 1594.3h-39M359 1373.4h43M2013 1373.4h-39M359 1152.6h43M2013 1152.6h-39M359 931.7h43M2013 931.7h-39M359 710.9h43M2013 710.9h-39M359 490h43M2013 490h-39M359 269.2h43M2013 269.2h-39M995.5 1639.8v-41M995.5 48.2v43M1632.5 1639.8v-41M1632.5 48.2v43" stroke-width="8"/>
<rect x="359" y="48.2" width="1654" height="1591.6" stroke-width="8"/>
</g>
<text class="tl" transform="translate(335.5 1617.8) scale(0.975 1)" text-anchor="end">0</text>
<text class="tl" transform="translate(335.5 1396.9) scale(0.975 1)" text-anchor="end">5E+07</text>
<text class="tl" transform="translate(335.5 1176.1) scale(0.975 1)" text-anchor="end">1E+08</text>
<text class="tl" transform="translate(335.5 955.2) scale(0.975 1)" text-anchor="end">1.5E+08</text>
<text class="tl" transform="translate(335.5 734.4) scale(0.975 1)" text-anchor="end">2E+08</text>
<text class="tl" transform="translate(335.5 513.5) scale(0.975 1)" text-anchor="end">2.5E+08</text>
<text class="tl" transform="translate(335.5 292.7) scale(0.975 1)" text-anchor="end">3E+08</text>
<text class="tl" transform="translate(335.5 71.8) scale(0.975 1)" text-anchor="end">3.5E+08</text>
<text class="tl" transform="translate(358.5 1704.2) scale(0.975 1)" text-anchor="middle">0</text>
<text class="tl" transform="translate(995.5 1704.2) scale(0.975 1)" text-anchor="middle">0.0005</text>
<text class="tl" transform="translate(1632.5 1704.2) scale(0.975 1)" text-anchor="middle">0.001</text>
<text class="ti" transform="translate(1186 1776.3) scale(1 1.03)" text-anchor="middle">Time(s)</text>
<text class="ti" transform="translate(74 843.2) rotate(-90) scale(1 1.03)" text-anchor="middle">Pressure (Pa)</text>
<g shape-rendering="crispEdges">
<path d="M762 428H1047" stroke="#ff00ff" stroke-width="6" fill="none" stroke-dasharray="49 48.5"/>
<path d="M762 503H1047" stroke="#00d200" stroke-width="6" fill="none"/>
<path d="M762 578.5H1047" stroke="#cc0000" stroke-width="6" fill="none"/>
<path d="M762 655.5H1047" stroke="#0000a8" stroke-width="6" fill="none"/>
<path d="M762 731H1047" stroke="#000" stroke-width="6" fill="none"/>
</g>
<text class="lg" transform="translate(1094.3 446) scale(1 1.05)">Single bubble</text>
<text class="lg" transform="translate(1094.3 522) scale(1 1.05)">Two bubbles (L = 0.3 m)</text>
<text class="lg" transform="translate(1094.3 598) scale(1 1.05)">Two bubbles (L = 0.5 m)</text>
<text class="lg" transform="translate(1094.3 673.5) scale(1 1.05)">Two bubbles (L = 0.7 m)</text>
<text class="lg" transform="translate(1094.3 750) scale(1 1.05)">Two bubbles (L = 0.9 m)</text>
</svg>
</body></html>
